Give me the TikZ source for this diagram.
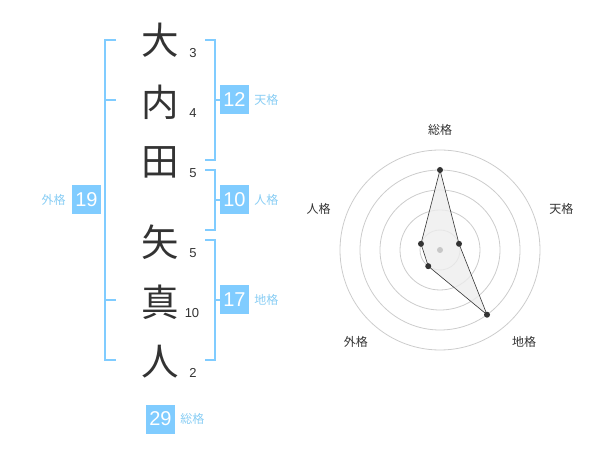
\documentclass[tikz,border=0pt]{standalone}
\usepackage{fontspec}
\setmainfont{Liberation Sans}
\newfontfamily\jpfont{Noto Sans CJK JP}
\usetikzlibrary{positioning}
\definecolor{sky}{HTML}{80CCFF}
\definecolor{skytext}{HTML}{88CDF4}
\definecolor{ink}{HTML}{333333}

\begin{document}
\begin{tikzpicture}[x=1pt, y=-1pt,
  kanji/.style={font=\jpfont\fontsize{37.5}{37.5}\selectfont, text=ink, inner sep=0pt},
  strokes/.style={font=\fontsize{13}{13}\selectfont, text=ink, inner sep=0pt},
  kaku/.style={fill=sky, text=white, minimum size=29pt, inner sep=0pt, font=\fontsize{20}{20}\selectfont},
  kakuname/.style={text=skytext, inner sep=0pt, font=\jpfont\fontsize{12}{12}\selectfont},
  axisname/.style={text=ink, inner sep=0pt, font=\jpfont\fontsize{12}{12}\selectfont},
  bracket/.style={draw=sky, line width=2pt},
  ring/.style={draw=black!20, line width=0.8pt},
  dot/.style={fill=ink}]
\useasboundingbox (0,0) rectangle (600,470);

\node[kanji] (k1) at (160,40) {大};
\node[kanji] (k2) at (160,102) {内};
\node[kanji] (k3) at (160,162) {田};
\node[kanji] (k4) at (160,242) {矢};
\node[kanji] (k5) at (160,302) {真};
\node[kanji] (k6) at (160,362) {人};

\node[strokes] (n1) at (193,53) {3};
\node[strokes] (n2) at (193,113) {4};
\node[strokes] (n3) at (193,173) {5};
\node[strokes] (n4) at (193,253) {5};
\node[strokes] (n5) at (192,313) {10};
\node[strokes] (n6) at (193,373) {2};

\node[kaku] (ten) at (234.5,100) {12};
\node[kakuname] (tenl) [right=5pt of ten] {天格};
\node[kaku] (jin) at (234.5,200) {10};
\node[kakuname] (jinl) [right=5pt of jin] {人格};
\node[kaku] (chi) at (234.5,300) {17};
\node[kakuname] (chil) [right=5pt of chi] {地格};
\node[kaku] (gai) at (86.5,200) {19};
\node[kakuname] (gail) [left=6pt of gai] {外格};
\node[kaku] (sou) at (160.5,419) {29};
\node[kakuname] (soul) [right=5pt of sou] {総格};

\draw[bracket] (116,40) -- (105,40) -- (105,360) -- (116,360);
\draw[bracket] (105,100) -- (116,100);
\draw[bracket] (105,300) -- (116,300);
\draw[bracket] (205,40) -- (215,40) -- (215,160) -- (205,160);
\draw[bracket] (215,100) -- (ten.west);
\draw[bracket] (205,170) -- (215,170) -- (215,230) -- (205,230);
\draw[bracket] (215,200) -- (jin.west);
\draw[bracket] (205,240) -- (215,240) -- (215,360) -- (205,360);
\draw[bracket] (215,300) -- (chi.west);

\begin{scope}[shift={(440,250)}, yscale=-1]
\foreach \r in {20,40,...,100}
  \draw[ring] (0,0) circle (\r pt);
\coordinate (p1) at (90:80);
\coordinate (p2) at (18:20);
\coordinate (p3) at (-54:80);
\coordinate (p4) at (-126:20);
\coordinate (p5) at (162:20);
\filldraw[fill=black!7, fill opacity=0.8, draw=ink, line width=0.6pt]
  (p1) -- (p2) -- (p3) -- (p4) -- (p5) -- cycle;
\fill[black!22] (0,0) circle (3pt);
\foreach \p in {p1,p2,p3,p4,p5}
  \fill[dot] (\p) circle (3pt);
\node[axisname] (a1) at (90:120) {総格};
\node[axisname] (a2) at (18.6:128) {天格};
\node[axisname] (a3) at (-47.6:124.6) {地格};
\node[axisname] (a4) at (-132.4:124.6) {外格};
\node[axisname] (a5) at (161.4:128) {人格};
\end{scope}
\end{tikzpicture}
\end{document}
